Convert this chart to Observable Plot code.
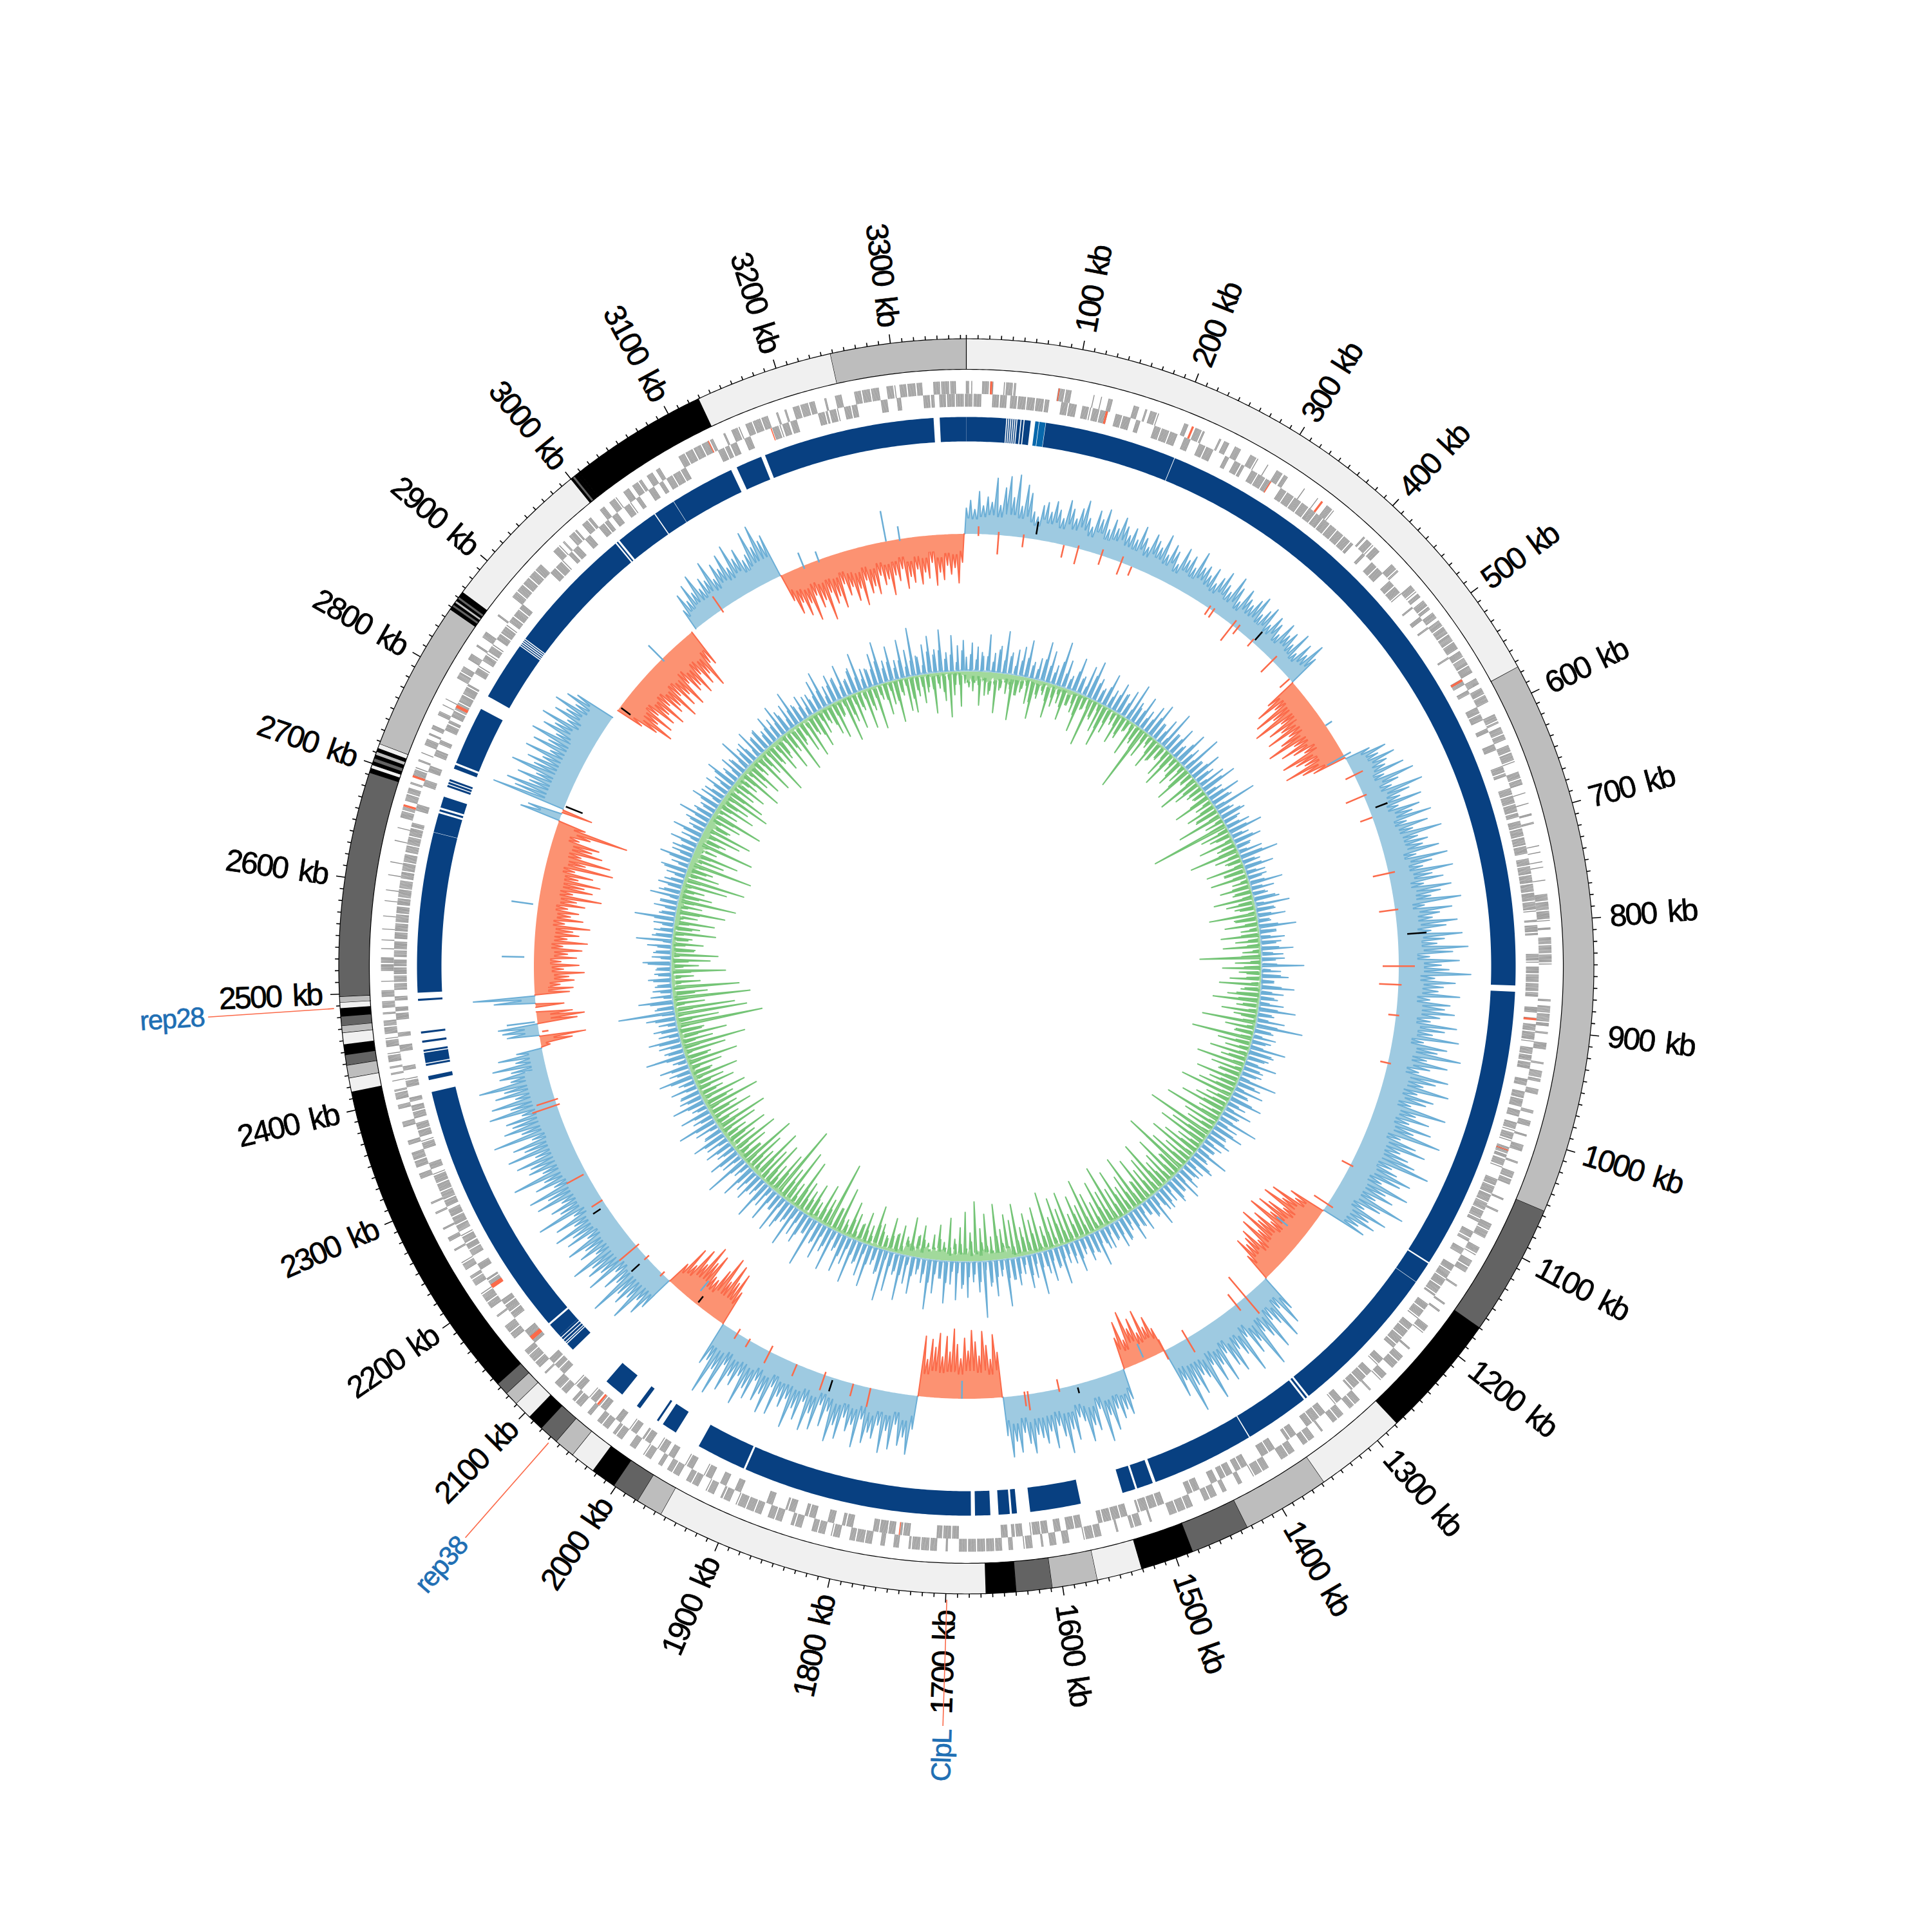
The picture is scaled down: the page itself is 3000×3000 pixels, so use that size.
<!DOCTYPE html>
<html><head><meta charset="utf-8">
<script src="https://cdn.jsdelivr.net/npm/d3@7"></script>
<script src="https://cdn.jsdelivr.net/npm/@observablehq/plot@0.6"></script>
<style>html,body{margin:0;padding:0;background:#fff}svg{display:block}</style>
</head><body><div id="chart"></div>
<script>
const genomeKb = 3365;
const contigEnds = [575,1056,1170,1278,1358,1434,1485,1531,1570,1609,1640,1666,1955,1978,2002,2024,2046,2064,2081,2095,2111,2123,2134,2416,2428,2439,2448,2457,2467,2473,2481,2488,2493,2498,2692,2696,2699,2702,2705,2708,2711,2714,2718,2848,2851,2853,2855,2857,2859,2861,2863,2866,3000,3002,3004,3006,3009,3129,3248,3365];
const contigShades = ["#f0f0f0","#bdbdbd","#636363","#000000","#f0f0f0","#bdbdbd","#636363","#000000","#f0f0f0","#bdbdbd","#636363","#000000","#f0f0f0","#bdbdbd","#636363","#000000","#f0f0f0","#bdbdbd","#636363","#000000","#f0f0f0","#bdbdbd","#636363","#000000","#f0f0f0","#bdbdbd","#636363","#000000","#f0f0f0","#bdbdbd","#636363","#000000","#f0f0f0","#bdbdbd","#636363","#000000","#f0f0f0","#000000","#636363","#000000","#bdbdbd","#000000","#f0f0f0","#bdbdbd","#000000","#636363","#000000","#bdbdbd","#000000","#636363","#000000","#000000","#f0f0f0","#000000","#636363","#000000","#000000","#000000","#f0f0f0","#bdbdbd"];
const alignDark = [[3339,3365],[0,39],[40,41],[42,43],[44,45],[46,47],[48,49],[50,53],[54,56],[57,63],[78,208],[208.6,860],[866,1146],[1147.5,1168.8],[1169.2,1322],[1324,1326],[1328,1392],[1393,1494],[1497,1513],[1515,1528],[1570,1620],[1633,1638],[1640,1651],[1659,1674],[1678,1904],[1906,1955],[1981,1996],[2001,2003],[2023,2027],[2045,2065],[2110,2118],[2119,2120],[2121,2123],[2124,2126],[2127,2129],[2129,2143],[2145,2400],[2412,2416],[2426,2428],[2429,2439],[2440,2442],[2449,2451],[2458,2460],[2490,2492],[2498,2655.6],[2656,2675],[2677,2679],[2681,2692],[2702,2704],[2705,2707],[2708,2710],[2721,2725],[2727,2785],[2799,2857],[2858,2859],[2860,2861],[2862,2863],[2864,2865],[2866,2994],[2995.5,2997],[2999,3041.5],[3042.5,3063.8],[3064.2,3128],[3134,3160],[3164,3333]];
const alignLight = [[67.5,71],[71.5,77.6]];
const skewRows = [
[40,52,38,66,44,58,50,88,46,74,92,60,96,48,82,70,42,35,54,60],
[46,64,52,40,70,58,44,62,76,50,38,66,54,72,42,60,48,68,56,44],
[58,42,66,50,38,62,54,46,70,40,60,52,34,64,48,58,42,72,50,56],
[44,60,38,52,66,48,40,70,56,36,62,50,44,58,68,42,54,64,38,58],
[50,36,62,46,56,40,66,34,58,44,70,50,-52,-76,-48,-88,-60,-98,-54,-80],
[-62,-90,-56,-74,-100,-58,-84,-66,-50,-92,-72,-60,-96,-70,-54,40,64,48,72,56],
[50,78,42,88,60,46,94,70,52,84,44,76,62,90,48,80,54,98,58,72],
[62,86,48,96,70,54,100,66,82,50,92,74,58,104,46,88,68,56,94,76],
[52,100,72,60,108,84,48,94,66,78,112,56,88,70,62,96,50,82,74,90],
[68,54,96,78,60,102,48,86,72,110,58,92,66,50,98,80,62,104,56,84],
[74,52,110,64,88,58,96,70,116,54,82,100,62,78,92,118,60,72,98,84],
[56,104,70,86,60,112,76,52,94,68,82,58,72,-58,-46,-84,-62,-92,-52,-76],
[-90,-64,-98,-54,-82,-70,-96,-60,-86,-50,-76,-66,-58,-72,-44,60,82,48,96,66],
[54,100,74,60,116,68,84,50,106,72,58,92,78,52,96,64,88,56,110,70],
[62,90,72,112,56,80,-40,-62,-48,-78,-44,-70,-56,-86,-42,-74,-50,48,70,60],
[72,54,86,60,100,46,78,68,92,58,50,84,66,102,74,56,90,62,80,70],
[64,92,76,58,88,70,94,60,-70,-98,-60,-82,-104,-66,-88,-106,-74,-94,-62,-84],
[-108,-72,-96,-64,-100,-78,-90,-58,-94,52,92,66,80,48,88,60,96,54,76,68],
[86,50,96,62,74,54,90,70,98,52,78,46,88,64,94,50,82,66,100,56],
[72,58,90,48,94,66,80,50,84,70,100,56,76,64,92,52,106,68,112,60],
[70,-56,-84,-66,-92,-60,-98,-72,-50,-52,-86,-70,-94,-58,-80,-46,-72,-38,58,76],
[56,98,64,82,70,112,60,78,50,96,68,86,74,104,56,80,66,92,52,84],
[70,96,58,86,50,108,66,78,56,94,72,100,54,82,64,112,60,80,74,94],
[60,102,72,88,54,114,66,92,76,84,56,106,70,98,58,88,72,110,58,74],
[54,82,44,70,40,-14,-50,-72,50,56,62,-62,-74,-56,0,-44,64,96,-54,-60],
[-40,-62,-54,-78,-46,-70,-42,-66,-52,-74,-44,-82,-50,-68,-58,-84,-44,-72,-52,-64],
[-46,-72,-58,-96,-50,-80,-66,-90,-54,-76,-46,-105,-60,-98,-50,-82,-64,-74,-40,-56],
[-114,-44,64,54,-48,117,84,100,66,88,60,104,70,84,62,94,56,88,66,98],
[60,86,70,96,56,82,66,90,58,78,64,0,0,-44,-68,-92,-62,-84,-54,-80],
[-66,-90,-58,-78,-70,-96,-60,-84,-68,-92,-56,-76,-70,-88,-58,-80,-66,-92,-54,-60],
[0,34,58,42,66,48,74,46,60,52,80,46,68,56,76,50,84,58,70,48],
[54,88,60,92,64,70,-44,-68,-52,-76,-58,-88,-50,-72,-62,-96,-54,-74,-64,-84],
[-48,-68,-56,-80,-62,-90,-52,-74,-64,-78,-50,-66,-58,-84,-54,-64,-46,-78,-60,-70],
[-50,-74,-56,-66,-42,-78,-58,-70,-48,-62,-52,-76,-44]
];
const skewBandRows = [34,34,32,30,32,42,36,38,40,40,40,38,40,42,38,40,44,42,38,38,38,36,36,36,22,32,34,34,42,46,36,36,38,38];
const gcRows = [
[22,-24,44,-14,38,-52,24,-36,58,-28,30,-62,42,-22,66,-30,34,-70,40,-30],
[46,-18,58,-40,26,-62,34,-28,62,-20,50,-54,30,-34,70,-26,44,-50,22,-24],
[54,-32,28,-60,48,-20,60,-76,36,-30,24,-46,52,-66,30,-40,46,-22,34,-48],
[44,-36,60,-18,26,-54,50,-30,32,-105,46,-42,56,-20,28,-50,42,-32,62,-24],
[30,-46,48,-58,24,-26,54,-44,34,-30,64,-60,26,-22,50,-66,32,-44,44,-28],
[58,-20,28,-60,52,-28,34,-48,68,-38,26,-72,40,-30,22,-124,38,-46,54,-24],
[28,-56,44,-30,22,-78,38,-40,60,-22,28,-60,46,-34,30,-58,22,-26,52,-48],
[36,-30,24,-62,40,-44,54,-24,30,-74,44,-34,20,-52,58,-28,26,-60,38,-38],
[24,-58,50,-28,34,-95,22,-40,66,-60,30,-22,42,-48,20,-64,52,-30,36,-50],
[28,-72,38,-34,58,-56,26,-24,44,-84,74,-46,30,-30,36,-95,22,-52,56,-38],
[40,-60,28,-40,50,-76,32,-50,24,-36,60,-68,38,-44,46,-58,26,-84,52,-38],
[30,-52,44,-72,26,-38,64,-90,36,-54,50,-44,28,-107,40,-62,32,-78,24,-40],
[54,-60,26,-78,42,-46,32,-66,24,-107,38,-40,48,-74,28,-52,40,-44,30,-84],
[36,-62,24,-48,52,-72,32,-38,22,-86,42,-58,30,-44,48,-76,26,-50,38,-92],
[44,-54,28,-74,36,-44,24,-62,56,-88,30,-50,40,-68,26,-42,50,-80,34,-56],
[30,-76,60,-48,32,-90,50,-38,24,-70,66,-52,38,-64,52,-44,28,-82,44,-58],
[34,-68,74,-46,26,-86,56,-36,40,-72,88,-50,48,-92,32,-44,56,-76,42,-52],
[60,-34,36,-66,66,-28,28,-54,52,-38,78,-24,38,-50,26,-32,58,-60,44,-28],
[72,-44,34,-28,62,-52,80,-22,40,-38,28,-64,66,-30,52,-48,36,-26,70,-40],
[44,-56,60,-24,30,-72,66,-36,40,-106,56,-42,36,-62,78,-28,28,-54,50,-38],
[42,-48,66,-80,32,-36,48,-88,60,-52,28,-119,54,-66,36,-40,64,-72,30,-56],
[46,-84,38,-42,56,-64,26,-90,70,-36,34,-52,50,-76,30,-44,44,-68,36,-38],
[54,-60,28,-82,38,-40,62,-66,32,-46,48,-86,24,-48,52,-72,36,-38,30,-60],
[42,-46,26,-72,54,-34,34,-52,46,-80,22,-40,62,-66,30,-100,36,-50,50,-74],
[32,-40,38,-134,28,-66,46,-112,88,-94,26,-48,54,-120,34,-54,30,-104,22,-44],
[36,-34,26,-84,22,-42,44,-60,30,-72,24,-36,38,-48,56,-30,26,-66,20,-40],
[32,-62,63,-34,22,-76,36,-38,28,-90,46,-50,26,-36,38,-70,20,-96,30,-52],
[42,-40,28,-100,50,-52,34,-72,22,-34,44,-90,30,-42,48,-62,26,-76,36,-38],
[52,-50,32,-82,26,-36,46,-60,36,-46,22,-76,40,-62,30,-40,50,-54,28,-34],
[38,-70,26,-42,54,-58,32,-30,22,-66,46,-40,30,-80,36,-36,26,-52,44,-28],
[34,-60,50,-36,28,-74,40,-28,56,-50,26,-64,38,-32,32,-56,22,-38,48,-26],
[58,-48,30,-58,44,-24,36,-70,52,-42,26,-56,40,-30,60,-62,32,-36,28,-68],
[50,-24,66,-50,34,-36,54,-66,30,-26,60,-52,42,-56,75,-32,28,-44,46,-20],
[58,-62,36,-24,66,-44,30,-70,56,-20,40,-54,48]
];
const gcMinorRows = [
[-14,26,-30,18,-20,30,-12,24,-34,16,-18,36,-26,20,-12,28,-22,14,-30,24],
[-24,30,-12,20,-36,16,-22,34,-14,26,-28,18,-20,38,-12,22,-30,16,-24,32],
[-18,24,-34,14,-22,36,-16,28,-26,20,-12,30,-38,18,-24,26,-14,32,-20,22],
[-30,16,-20,34,-12,26,-24,18,-36,22,-16,32,-14,28,-26,20,-34,14,-22,30],
[-16,28,-26,20,-14,34,-30,22,-12,18,-38,26,-20,30,-16,24,-28,14,-22,36],
[-22,18,-32,26,-14,30,-24,16,-36,20,-18,34,-12,28,-26,22,-16,30,-34,18],
[-12,32,-22,24,-30,14,-18,36,-26,20,-14,28,-34,16,-22,30,-12,24,-28,18],
[-26,20,-16,34,-24,14,-32,28,-12,22,-36,18,-20,30,-14,26,-28,16,-18,32],
[-20,28,-12,18,-30,36,-16,24,-26,14,-34,30,-22,20,-14,32,-24,18,-36,22],
[-32,16,-24,30,-14,22,-36,18,-20,34,-12,26,-28,14,-18,30,-24,20,-16,36],
[-14,34,-28,20,-18,26,-12,32,-34,16,-22,28,-26,14,-30,24,-16,36,-20,18],
[-24,14,-36,28,-16,22,-30,18,-12,34,-20,26,-14,30,-34,16,-26,24,-18,20],
[-30,22,-14,36,-20,16,-26,30,-12,24,-38,18,-22,28,-16,34,-24,14,-32,26],
[-16,34,-26,18,-12,30,-36,22,-20,14,-28,32,-18,26,-34,16,-22,36,-14,24],
[-22,26,-30,14,-18,34,-12,20,-26,32,-16,28,-38,18,-24,30,-14,22,-20,16],
[-34,20,-14,30,-26,18,-22,36,-12,24,-30,16,-18,32,-28,14,-24,26,-16,34],
[-18,30,-24,16,-36,26,-12,34,-22,14,-28,32,-16,20,-30,24,-14,36,-26,18],
[-26,16,-20,34,-14,28,-32,22,-18,36,-12,24,-28,18,-34,30,-16,14,-22,32],
[-12,28,-30,22,-24,14,-18,36,-26,20,-34,30,-14,16,-20,32,-28,24,-12,18],
[-28,34,-16,24,-20,14,-36,30,-12,18,-26,32,-22,16,-14,28,-30,36,-24,20],
[-20,18,-32,26,-14,36,-24,16,-30,28,-12,22,-34,14,-18,32,-26,20,-16,30],
[-34,22,-12,30,-26,16,-20,28,-36,14,-18,34,-24,20,-14,26,-30,16,-22,36],
[-16,30,-28,14,-22,34,-12,20,-32,26,-18,16,-36,28,-14,24,-26,32,-20,18],
[-24,18,-14,36,-30,22,-16,28,-20,14,-34,30,-12,24,-26,18,-22,34,-28,16],
[-36,26,-18,14,-24,32,-12,20,-28,30,-16,36,-22,14,-34,18,-20,26,-14,28],
[-14,20,-30,24,-18,36,-26,16,-12,28,-34,22,-20,14,-24,32,-16,30,-28,18],
[-22,32,-12,26,-36,18,-16,28,-24,14,-30,34,-20,22,-14,30,-26,16,-18,36],
[-30,16,-24,34,-14,20,-28,36,-12,26,-18,14,-32,30,-22,18,-16,28,-34,24],
[-18,26,-36,20,-12,30,-22,14,-28,34,-16,24,-30,18,-14,36,-26,22,-20,16],
[-26,30,-14,18,-32,24,-20,36,-16,14,-24,28,-12,34,-30,20,-18,26,-36,22],
[-12,22,-28,36,-18,16,-34,26,-22,30,-14,20,-26,14,-36,32,-16,24,-20,28],
[-32,14,-20,28,-26,34,-12,18,-30,24,-16,36,-24,22,-14,16,-28,30,-18,26],
[-16,36,-26,22,-14,30,-32,18,-20,28,-12,16,-34,24,-22,30,-18,14,-28,34],
[-24,28,-16,34,-30,20,-12,26,-36,14,-20,32,-18]
];
const gcGreenBandRows = [14,7,4,4,3,3,4,4,4,4,4,4,4,4,5,6,16,16,6,6,6,7,7,7,6,6,9,14,10,8,6,5,4,6];
const skewAccentRed = [[15,12,-3],[40,5,-30],[71,5,-15],[122,0,-20],[140,5,-25],[170,10,-15],[196,10,-20],[210,0,-15],[319,5,-12],[325,5,-12],[355,10,-30],[362,8,-10],[386,5,-10],[421,10,-25],[452,0,-20],[596,15,-15],[624,5,-30],[653,0,-20],[725,10,-25],[771,5,-25],[841,25,-25],[864,5,-30],[902,5,-12],[962,5,-12],[1097,5,-15],[1153,10,-25],[1307,34,-40],[1322,12,-20],[1396,25,-15],[1428,15,-20],[1567,5,-15],[1606,25,-5],[1610,18,-5],[1802,30,0],[1824,20,0],[1861,25,-5],[1898,20,0],[1935,20,-10],[1964,12,-3],[1981,10,-8],[2100,5,-5],[2128,5,-5],[2147,35,-5],[2218,20,0],[2257,35,5],[2349,40,-5],[2356,30,-5],[2442,-5,-15],[3043,25,-5]];
const skewAccentBlue = [[525,12,0],[569,12,-30],[1205,-30,-52],[1455,-5,-28],[1688,0,-28],[2050,-20,-40],[2600,42,8],[2535,50,15],[3158,22,-5],[3178,14,-4],[3265,48,0],[3282,20,-3],[2947,30,-5],[2455,48,4]];
const skewAccentBlack = [[86,8,28],[388,5,22],[643,10,30],[802,15,45],[1544,5,14],[1850,4,22],[2043,-4,-16],[2128,15,32],[2210,10,24],[2727,-2,-30],[2868,-2,-20]];
const genesFwd = [[0,3],[5,6],[15,25],[35,36],[37,46],[85,97],[118,119],[125,126],[132,136],[156,161],[167,169],[172,180],[205,209],[216,225],[240,242],[245,250],[256,262],[272,280],[290,291],[300,306],[308,312],[330,331],[345,346],[356,364],[400,402],[404,412],[414,420],[436,445],[462,470],[472,476],[480,490],[494,500],[503,535],[537,560],[566,572],[576,590],[603,612],[616,628],[634,650],[660,672],[680,681],[690,691],[700,702],[708,710],[730,731],[736,737],[745,746],[750,751],[762,763],[775,800],[806,808],[815,840],[872,874],[878,896],[902,904],[912,918],[930,932],[938,948],[955,960],[975,978],[985,990],[998,1000],[1008,1014],[1024,1026],[1034,1046],[1060,1062],[1072,1074],[1086,1100],[1110,1118],[1124,1136],[1150,1152],[1170,1172],[1178,1180],[1196,1204],[1222,1224],[1232,1246],[1254,1262],[1274,1276],[1288,1300],[1308,1320],[1332,1334],[1342,1354],[1364,1378],[1392,1408],[1420,1424],[1436,1440],[1446,1458],[1470,1494],[1510,1512],[1520,1530],[1542,1544],[1558,1574],[1588,1594],[1600,1606],[1612,1614],[1622,1630],[1640,1644],[1650,1690],[1700,1702],[1710,1736],[1745,1750],[1758,1762],[1770,1790],[1800,1808],[1814,1826],[1836,1846],[1855,1868],[1875,1900],[1906,1915],[1922,1930],[1938,1950],[1958,1970],[1976,1980],[1988,1996],[2005,2012],[2020,2030],[2036,2048],[2056,2060],[2068,2078],[2086,2100],[2112,2114],[2120,2140],[2155,2170],[2180,2182],[2190,2206],[2215,2225],[2232,2240],[2252,2254],[2262,2266],[2274,2276],[2290,2292],[2300,2302],[2325,2330],[2336,2350],[2358,2362],[2375,2380],[2392,2396],[2401,2410],[2418,2419],[2424,2426],[2430,2432],[2436,2444],[2450,2458],[2462,2474],[2480,2482],[2486,2492],[2496,2502],[2510,2511],[2520,2532],[2540,2541],[2548,2549],[2558,2559],[2570,2571],[2584,2585],[2594,2595],[2608,2609],[2620,2621],[2640,2641],[2652,2653],[2662,2672],[2678,2690],[2694,2696],[2702,2710],[2716,2718],[2724,2725],[2732,2738],[2742,2744],[2748,2752],[2762,2766],[2772,2773],[2778,2779],[2800,2812],[2820,2826],[2834,2836],[2844,2850],[2868,2870],[2890,2930],[2946,2954],[2958,2960],[2966,2975],[2982,2992],[3003,3008],[3014,3022],[3030,3036],[3040,3050],[3056,3062],[3066,3070],[3090,3125],[3136,3138],[3144,3152],[3158,3180],[3188,3190],[3196,3198],[3204,3225],[3234,3236],[3244,3250],[3262,3285],[3292,3300],[3304,3325],[3335,3355]];
const genesRev = [[0,15],[25,38],[42,78],[90,105],[110,118],[120,135],[142,156],[162,166],[180,204],[210,216],[225,240],[252,256],[262,272],[280,300],[312,398],[410,413],[422,436],[446,462],[478,480],[490,494],[502,504],[536,538],[560,566],[572,576],[590,603],[612,616],[628,634],[650,660],[672,700],[704,735],[740,790],[798,800],[803,812],[830,838],[842,870],[880,885],[890,892],[896,912],[918,930],[932,938],[948,955],[960,975],[978,985],[990,998],[1000,1008],[1014,1024],[1026,1034],[1046,1090],[1100,1110],[1118,1124],[1136,1170],[1180,1196],[1204,1232],[1246,1254],[1262,1288],[1300,1308],[1320,1342],[1354,1364],[1378,1392],[1408,1420],[1424,1436],[1440,1446],[1458,1470],[1494,1520],[1530,1558],[1574,1588],[1594,1600],[1606,1622],[1630,1640],[1644,1650],[1690,1710],[1736,1745],[1750,1770],[1790,1800],[1808,1814],[1826,1836],[1846,1855],[1868,1875],[1900,1906],[1915,1922],[1930,1938],[1950,1958],[1970,1976],[1980,1988],[1996,2005],[2012,2020],[2030,2036],[2048,2056],[2060,2068],[2078,2086],[2100,2112],[2114,2120],[2140,2155],[2170,2190],[2206,2215],[2225,2232],[2240,2252],[2254,2262],[2266,2290],[2292,2325],[2330,2336],[2350,2358],[2362,2375],[2380,2392],[2396,2400],[2410,2418],[2426,2430],[2444,2450],[2458,2462],[2474,2480],[2482,2486],[2492,2496],[2502,2515],[2517,2530],[2533,2548],[2550,2580],[2582,2605],[2607,2630],[2632,2660],[2672,2678],[2696,2702],[2710,2716],[2726,2732],[2738,2742],[2752,2762],[2766,2800],[2812,2820],[2826,2834],[2836,2844],[2850,2866],[2870,2890],[2930,2946],[2954,2958],[2960,2966],[2975,2982],[2992,3003],[3008,3014],[3022,3030],[3036,3040],[3050,3056],[3062,3066],[3070,3090],[3125,3136],[3138,3144],[3152,3158],[3180,3188],[3190,3196],[3198,3204],[3225,3234],[3236,3244],[3250,3262],[3285,3292],[3300,3304],[3325,3335],[3340,3365]];
const genesRedFwd = [[22,24],[85,86],[212,214],[349,351],[2672,2674],[2700,2702],[3120,3121]];
const genesRedRev = [[132,134],[300,301],[560,562],[890,892],[1016,1017],[1745,1746],[2143,2147],[2056,2058],[2204,2208],[2775,2778],[3178,3179]];
const featureNames = ["rep28","rep38","ClpL"];
const featureKb = [2488,2068,1699];
const tickKb = d3.range(0, genomeKb, 10);
const labelKb = d3.range(100, genomeKb, 100);

const TRACK = {ringOut:974.5, ringIn:927, geneOut:909, geneMid:889, geneIn:869, alignOut:853, alignIn:815, skew:671.5, gc:458, featIn:984, featOut:1180, featText:1186, labelR:1002};
const theta = kb => kb / genomeKb * 2 * Math.PI;
const px = (kb, r) => r * Math.sin(theta(kb));
const py = (kb, r) => -r * Math.cos(theta(kb));
const P = (kb, r, extra) => ({x: px(kb, r), y: py(kb, r), ...extra});

function band(spans, r0, r1, extra = () => ({})) {
  const pts = [];
  spans.forEach(([a, b], id) => {
    const n = Math.max(1, Math.ceil((b - a) / 3));
    const e = {id, ...extra(id)};
    for (let i = 0; i <= n; i++) pts.push(P(a + (b - a) * i / n, r1, e));
    for (let i = n; i >= 0; i--) pts.push(P(a + (b - a) * i / n, r0, e));
  });
  return pts;
}
const contigSpans = contigEnds.map((e, i) => [i ? contigEnds[i - 1] : 0, e]);
const geneTicks = (blocks, r0, r1) => blocks.flatMap(([a, b]) =>
  d3.range(a, Math.max(b, a + 0.5), 1.05).filter((_, i) => i % 8 !== 6).map(kb => ({kb, r0, r1})));

function skewSpikes(rows, base, sign) {
  const s = rows.flatMap((row, i) => row.map((v, j) => ({kb: i * 100 + j * 5, v, row: i})));
  const runs = [];
  let cur = null;
  s.forEach(d => {
    if (d.v * sign > 0) (cur = cur || []).push(d);
    else if (cur) { runs.push(cur); cur = null; }
  });
  if (cur) runs.push(cur);
  const fill = [], line = [];
  let spikeId = 0;
  runs.forEach((run, id) => {
    const bottom = [];
    run.forEach((d, i) => {
      const a = Math.abs(d.v), F = skewBandRows[d.row];
      const hw = 1.2 + 0.009 * a + (a % 3) * 0.3;
      const nextV = i + 1 < run.length ? Math.abs(run[i + 1].v) : 0;
      const prevV = i ? Math.abs(run[i - 1].v) : 0;
      const lo = Math.min(F, 0.62 * Math.min(a, prevV)), hi = Math.min(F, 0.62 * Math.min(a, nextV));
      const tri = [[d.kb - hw, lo], [d.kb, a], [d.kb + hw, hi]];
      tri.forEach(([k, o]) => { fill.push(P(k, base + sign * o, {id})); line.push(P(k, base + sign * o, {id: spikeId})); });
      spikeId++;
      bottom.push(d.kb - hw, d.kb + hw);
    });
    bottom.reverse().forEach(k => fill.push(P(k, base, {id})));
  });
  return {fill, line};
}
function gcSpikes(base, sign, bandOf) {
  const s = gcRows.flatMap((row, i) => row.flatMap((v, j) => [
    {kb: i * 100 + j * 5, v, row: i},
    ...(j < gcMinorRows[i].length ? [{kb: i * 100 + j * 5 + 2.5, v: gcMinorRows[i][j], row: i}] : [])
  ]));
  const fill = [], line = [], bottom = [];
  s.forEach((d, id) => {
    const a = Math.abs(d.v), F = bandOf(d.row), floor = F * (0.55 + (a % 5) * 0.16);
    if (d.v * sign > 0) {
      const hw = 0.9 + 0.012 * a;
      const tri = [[d.kb - hw, floor], [d.kb, a], [d.kb + hw, floor]];
      tri.forEach(([k, o]) => { fill.push(P(k, base + sign * o, {id: 0})); line.push(P(k, base + sign * o, {id})); });
    } else fill.push(P(d.kb, base + sign * floor, {id: 0}));
    bottom.push(d.kb);
  });
  fill.push(P(genomeKb, base + sign * bandOf(0), {id: 0}), P(genomeKb, base, {id: 0}));
  bottom.reverse().forEach(k => fill.push(P(k, base, {id: 0})));
  return {fill, line};
}
const skewPos = skewSpikes(skewRows, TRACK.skew, 1), skewNeg = skewSpikes(skewRows, TRACK.skew, -1);
const gcPos = gcSpikes(TRACK.gc, 1, () => 3), gcNeg = gcSpikes(TRACK.gc, -1, r => gcGreenBandRows[r]);
const area = (d, fill) => Plot.line(d, {x: "x", y: "y", z: "id", fill, stroke: "none"});
const trace = (d, stroke, w = 2) => Plot.line(d, {x: "x", y: "y", z: "id", stroke, strokeWidth: w});
const radial = (data, kb, r1, r2, stroke, w) => Plot.link(data, {
  x1: d => px(kb(d), r1(d)), y1: d => py(kb(d), r1(d)),
  x2: d => px(kb(d), r2(d)), y2: d => py(kb(d), r2(d)), stroke, strokeWidth: w});
const font = "Liberation Sans";
const labelMark = (data, r, kbOf, txt, fontSize, fill, left, cls) => Plot.text(data, {
  x: d => px(kbOf(d), r), y: d => py(kbOf(d), r), text: txt,
  rotate: d => kbOf(d) / genomeKb * 360 + (left ? 90 : -90),
  textAnchor: left ? "end" : "start", lineAnchor: "middle",
  fontSize, fontFamily: font, fill, stroke: fill, strokeWidth: 0.7, className: cls});
const isLeft = k => k > genomeKb / 2 + 12;
const feats = featureNames.map((name, i) => ({name, kb: featureKb[i]}));

const chart = Plot.plot({
  width: 3000, height: 3000, margin: 0,
  x: {domain: [-1500, 1500], range: [0, 3000], axis: null},
  y: {domain: [-1500, 1500], range: [0, 3000], axis: null},
  color: {type: "identity"},
  style: {background: "#fff"},
  marks: [
    Plot.line(band(contigSpans, TRACK.ringIn, TRACK.ringOut, id => ({c: contigShades[id]})), {x: "x", y: "y", z: "id", fill: "c", stroke: "#000", strokeWidth: 1.2}),
    radial(tickKb, d => d, () => TRACK.ringOut, d => TRACK.ringOut + (d % 100 === 0 && d > 0 ? 14 : 6), "#000", 1.6),
    labelMark(labelKb.filter(k => !isLeft(k)), TRACK.labelR, d => d, d => `${d} kb`, 48, "#000", false, "kb-label"),
    labelMark(labelKb.filter(isLeft), TRACK.labelR, d => d, d => `${d} kb`, 48, "#000", true, "kb-label"),
    radial(geneTicks(genesFwd, TRACK.geneMid, TRACK.geneOut), d => d.kb, d => d.r0, d => d.r1, "#8f8f8f", 1.35),
    radial(geneTicks(genesRev, TRACK.geneIn, TRACK.geneMid), d => d.kb, d => d.r0, d => d.r1, "#8f8f8f", 1.35),
    area(band(genesRedFwd, TRACK.geneMid, TRACK.geneOut), "#fb6a4a"),
    area(band(genesRedRev, TRACK.geneIn, TRACK.geneMid), "#fb6a4a"),
    area(band(alignDark, TRACK.alignIn, TRACK.alignOut), "#084081"),
    area(band(alignLight, TRACK.alignIn, TRACK.alignOut), "#0868ac"),
    area(skewPos.fill, "#9ecae1"), area(skewNeg.fill, "#fc9272"),
    trace(skewPos.line, "#6baed6"), trace(skewNeg.line, "#fb6a4a"),
    radial(skewAccentRed, d => d[0], d => TRACK.skew + d[1], d => TRACK.skew + d[2], "#fb6a4a", 2.5),
    radial(skewAccentBlue, d => d[0], d => TRACK.skew + d[1], d => TRACK.skew + d[2], "#6baed6", 2.5),
    radial(skewAccentBlack, d => d[0], d => TRACK.skew + d[1], d => TRACK.skew + d[2], "#000", 2.5),
    area(gcNeg.fill, "#a1d99b"), area(gcPos.fill, "#9ecae1"),
    trace(gcNeg.line, "#74c476"), trace(gcPos.line, "#6baed6"),
    radial(feats, d => d.kb, () => TRACK.featIn, () => TRACK.featOut, "#fb6a4a", 1.6),
    labelMark(feats, TRACK.featText, d => d.kb, d => d.name, 42, "#1f6fb4", true, "feat-label")
  ]
});
d3.select(chart).selectAll(".kb-label text").style("letter-spacing", "-2.6px").style("word-spacing", "7px");
d3.select(chart).selectAll(".feat-label text").style("letter-spacing", "-1.5px");
document.getElementById("chart").append(chart);
</script></body></html>
